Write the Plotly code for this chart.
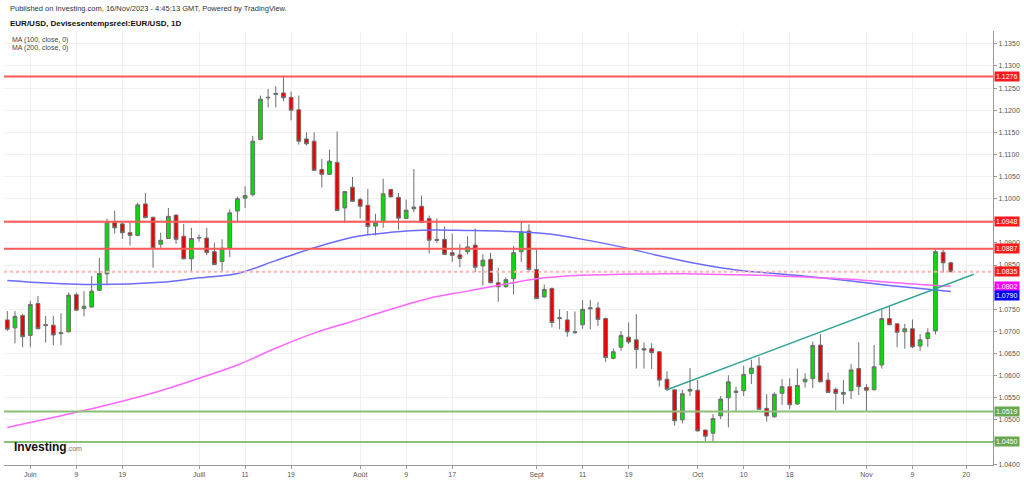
"""
EUR/USD daily candles (Jun-Nov 2023) with MA100 / MA200,
support/resistance levels and a rising trendline, TradingView style.
"""

import pandas as pd
import plotly.graph_objects as go

# --- data -------------------------------------------------------------------
dates = pd.bdate_range("2023-05-29", "2023-11-16")

opens = [
    1.0726, 1.0708, 1.0736, 1.0691, 1.0763, 1.0713, 1.0714, 1.0695, 1.0699, 1.0783,
    1.0752, 1.0755, 1.0793, 1.0830, 1.0946, 1.0943, 1.0923, 1.0917, 1.0988, 1.0958,
    1.0897, 1.0910, 1.0963, 1.0915, 1.0864, 1.0911, 1.0911, 1.0880, 1.0858, 1.0888,
    1.0972, 1.1001, 1.1009, 1.1134, 1.1228, 1.1238, 1.1239, 1.1229, 1.1201, 1.1135,
    1.1130, 1.1066, 1.1055, 1.1082, 1.0979, 1.1026, 1.0998, 1.0985, 1.0938, 1.0947,
    1.1021, 1.1003, 1.0955, 1.0977, 1.0983, 1.0955, 1.0908, 1.0908, 1.0878, 1.0873,
    1.0880, 1.0895, 1.0848, 1.0863, 1.0810, 1.0801, 1.0819, 1.0880, 1.0927, 1.0840,
    1.0778, 1.0797, 1.0731, 1.0726, 1.0697, 1.0715, 1.0751, 1.0753, 1.0729, 1.0639,
    1.0664, 1.0687, 1.0681, 1.0661, 1.0661, 1.0654, 1.0592, 1.0568, 1.0500, 1.0565,
    1.0567, 1.0477, 1.0470, 1.0509, 1.0550, 1.0562, 1.0566, 1.0605, 1.0622, 1.0526,
    1.0507, 1.0560, 1.0575, 1.0536, 1.0586, 1.0593, 1.0669, 1.0590, 1.0569, 1.0558,
    1.0566, 1.0616, 1.0573, 1.0568, 1.0624, 1.0729, 1.0717, 1.0699, 1.0706, 1.0667,
    1.0684, 1.0701, 1.0879, 1.0855,
]
highs = [
    1.0746, 1.0746, 1.0739, 1.0769, 1.0780, 1.0735, 1.0735, 1.0741, 1.0788, 1.0788,
    1.0791, 1.0825, 1.0866, 1.0955, 1.0973, 1.0947, 1.0946, 1.0991, 1.1013, 1.0959,
    1.0923, 1.0979, 1.0964, 1.0943, 1.0934, 1.0919, 1.0934, 1.0900, 1.0908, 1.0976,
    1.1005, 1.1028, 1.1142, 1.1233, 1.1248, 1.1254, 1.1278, 1.1242, 1.1233, 1.1150,
    1.1150, 1.1090, 1.1111, 1.1152, 1.1017, 1.1049, 1.1002, 1.1022, 1.0966, 1.1045,
    1.1022, 1.1013, 1.0998, 1.1067, 1.1007, 1.0962, 1.0955, 1.0937, 1.0921, 1.0897,
    1.0915, 1.0932, 1.0874, 1.0878, 1.0844, 1.0822, 1.0893, 1.0948, 1.0942, 1.0884,
    1.0806, 1.0799, 1.0750, 1.0746, 1.0745, 1.0771, 1.0771, 1.0766, 1.0731, 1.0661,
    1.0701, 1.0720, 1.0739, 1.0675, 1.0673, 1.0655, 1.0610, 1.0569, 1.0568, 1.0617,
    1.0590, 1.0478, 1.0513, 1.0554, 1.0601, 1.0575, 1.0622, 1.0636, 1.0642, 1.0558,
    1.0562, 1.0592, 1.0594, 1.0616, 1.0605, 1.0677, 1.0694, 1.0607, 1.0573, 1.0590,
    1.0626, 1.0675, 1.0581, 1.0669, 1.0750, 1.0756, 1.0718, 1.0717, 1.0727, 1.0694,
    1.0707, 1.0885, 1.0885, 1.0857,
]
lows = [
    1.0701, 1.0673, 1.0664, 1.0664, 1.0705, 1.0675, 1.0669, 1.0669, 1.0698, 1.0746,
    1.0734, 1.0754, 1.0791, 1.0804, 1.0921, 1.0909, 1.0894, 1.0915, 1.0956, 1.0844,
    1.0889, 1.0909, 1.0898, 1.0863, 1.0836, 1.0903, 1.0872, 1.0850, 1.0836, 1.0868,
    1.0945, 1.0979, 1.1005, 1.1132, 1.1206, 1.1206, 1.1220, 1.1177, 1.1122, 1.1120,
    1.1063, 1.1025, 1.1054, 1.0972, 1.0945, 1.0993, 1.0955, 1.0919, 1.0917, 1.0934,
    1.1003, 1.0930, 1.0954, 1.0969, 1.0945, 1.0876, 1.0900, 1.0873, 1.0857, 1.0845,
    1.0874, 1.0834, 1.0804, 1.0809, 1.0767, 1.0799, 1.0784, 1.0857, 1.0834, 1.0773,
    1.0776, 1.0709, 1.0705, 1.0688, 1.0695, 1.0706, 1.0705, 1.0712, 1.0631, 1.0637,
    1.0656, 1.0671, 1.0616, 1.0616, 1.0615, 1.0575, 1.0565, 1.0487, 1.0492, 1.0554,
    1.0474, 1.0449, 1.0449, 1.0502, 1.0483, 1.0518, 1.0554, 1.0581, 1.0523, 1.0496,
    1.0505, 1.0534, 1.0524, 1.0534, 1.0573, 1.0572, 1.0585, 1.0561, 1.0522, 1.0536,
    1.0547, 1.0556, 1.0518, 1.0567, 1.0616, 1.0714, 1.0664, 1.0661, 1.0662, 1.0656,
    1.0665, 1.0693, 1.0833, 1.0833,
]
closes = [
    1.0705, 1.0734, 1.0688, 1.0761, 1.0706, 1.0715, 1.0692, 1.0697, 1.0782, 1.0748,
    1.0757, 1.0791, 1.0831, 1.0948, 1.0934, 1.0923, 1.0917, 1.0986, 1.0957, 1.0888,
    1.0906, 1.0960, 1.0908, 1.0864, 1.0910, 1.0912, 1.0878, 1.0851, 1.0888, 1.0968,
    1.1000, 1.1007, 1.1130, 1.1225, 1.1229, 1.1236, 1.1228, 1.1200, 1.1130, 1.1124,
    1.1064, 1.1055, 1.1085, 1.0973, 1.1016, 1.0994, 1.0983, 1.0937, 1.0946, 1.1011,
    1.1004, 1.0956, 1.0974, 1.0981, 1.0946, 1.0906, 1.0906, 1.0874, 1.0872, 1.0865,
    1.0891, 1.0845, 1.0861, 1.0810, 1.0801, 1.0817, 1.0878, 1.0925, 1.0840, 1.0774,
    1.0795, 1.0720, 1.0729, 1.0699, 1.0699, 1.0750, 1.0753, 1.0727, 1.0641, 1.0654,
    1.0691, 1.0676, 1.0659, 1.0658, 1.0652, 1.0590, 1.0569, 1.0498, 1.0559, 1.0569,
    1.0475, 1.0463, 1.0503, 1.0547, 1.0586, 1.0565, 1.0603, 1.0617, 1.0524, 1.0509,
    1.0558, 1.0575, 1.0534, 1.0578, 1.0592, 1.0668, 1.0586, 1.0562, 1.0560, 1.0562,
    1.0613, 1.0575, 1.0567, 1.0620, 1.0729, 1.0715, 1.0698, 1.0706, 1.0665, 1.0681,
    1.0697, 1.0880, 1.0855, 1.0835,
]

# moving averages at regular points
ma_dates = [
    "2023-05-29", "2023-06-12", "2023-06-26", "2023-07-03", "2023-07-10",
    "2023-07-17", "2023-07-24", "2023-07-31", "2023-08-07", "2023-08-14",
    "2023-08-21", "2023-08-28", "2023-09-04", "2023-09-11", "2023-09-18",
    "2023-09-25", "2023-10-02", "2023-10-09", "2023-10-16", "2023-10-23",
    "2023-10-30", "2023-11-06", "2023-11-13", "2023-11-16",
]
ma100 = [
    1.0815, 1.0806, 1.0811, 1.0821, 1.0831, 1.0860, 1.0889, 1.0913, 1.0924, 1.0929,
    1.0928, 1.0926, 1.0921, 1.0908, 1.0891, 1.0871, 1.0853, 1.0839, 1.0831, 1.0823,
    1.0814, 1.0804, 1.0795, 1.0790,
]
ma200 = [
    1.0483, 1.0521, 1.0566, 1.0594, 1.0624, 1.0662, 1.0696, 1.0723, 1.0750, 1.0775,
    1.0791, 1.0807, 1.0821, 1.0827, 1.0829, 1.0830, 1.0830, 1.0828, 1.0826, 1.0822,
    1.0818, 1.0811, 1.0805, 1.0802,
]

trend_dates = ["2023-09-26", "2023-11-21"]
trend_prices = [1.0568, 1.0829]

level_prices = [1.1276, 1.0948, 1.0887, 1.0835, 1.0519, 1.0450]
level_kinds = ["res", "res", "res", "dot", "sup", "sup"]

tick_dates = [
    "2023-06-01", "2023-06-09", "2023-06-19", "2023-07-03", "2023-07-11",
    "2023-07-19", "2023-08-01", "2023-08-09", "2023-08-17", "2023-09-01",
    "2023-09-11", "2023-09-19", "2023-10-02", "2023-10-10", "2023-10-18",
    "2023-11-01", "2023-11-09", "2023-11-20",
]
tick_text = [
    "Juin", "9", "19", "Juill", "11", "19", "Août", "9", "17",
    "Sept", "11", "19", "Oct", "10", "18", "Nov", "9", "20",
]
y_ticks = [
    1.040, 1.045, 1.050, 1.055, 1.060, 1.065, 1.070, 1.075, 1.080, 1.085,
    1.090, 1.095, 1.100, 1.105, 1.110, 1.115, 1.120, 1.125, 1.130, 1.135,
]
# labels hidden behind the price boxes on the axis
y_hidden = [1.045, 1.080, 1.095]

# --- styles -----------------------------------------------------------------
FONT = "Arial, Liberation Sans, sans-serif"
LEVEL_STYLE = {
    "res": dict(color="#ff5a5a", width=2, dash="solid"),
    "dot": dict(color="#ffb3b3", width=2, dash="dot"),
    "sup": dict(color="#8cbf78", width=2, dash="solid"),
}
LABEL_BG = {"res": "#ff1a1a", "dot": "#ff1a1a", "sup": "#6aa84f"}

y_text = ["" if t in y_hidden else f"{t:.4f}" for t in y_ticks]

fig = go.Figure()

fig.add_trace(go.Candlestick(
    x=dates, open=opens, high=highs, low=lows, close=closes,
    increasing=dict(fillcolor="#00e000", line=dict(color="#6e6e6e", width=1)),
    decreasing=dict(fillcolor="#ee0000", line=dict(color="#6e6e6e", width=1)),
    whiskerwidth=0, hoverinfo="skip",
))

fig.add_trace(go.Scatter(
    x=ma_dates, y=ma100, mode="lines",
    line=dict(color="#6b6bff", width=1.5, shape="spline"), hoverinfo="skip",
))
fig.add_trace(go.Scatter(
    x=ma_dates, y=ma200, mode="lines",
    line=dict(color="#ff66ff", width=1.5, shape="spline"), hoverinfo="skip",
))
fig.add_trace(go.Scatter(
    x=trend_dates, y=trend_prices, mode="lines",
    line=dict(color="#35a596", width=1.5), hoverinfo="skip",
))

for price, kind in zip(level_prices, level_kinds):
    fig.add_shape(type="line", xref="paper", x0=0, x1=1, yref="y", y0=price, y1=price,
                  line=LEVEL_STYLE[kind], layer="above")
    fig.add_annotation(x=1, xref="paper", y=price, yref="y", xanchor="left", xshift=1,
                       text=f"{price:.4f}", showarrow=False, bgcolor=LABEL_BG[kind],
                       borderpad=1, font=dict(family=FONT, size=7, color="white"))

# last values of the moving averages
fig.add_annotation(x=1, xref="paper", y=ma200[-1], yref="y", xanchor="left", xshift=1,
                   text=f"{ma200[-1]:.4f}", showarrow=False, bgcolor="#ff00ff",
                   borderpad=1, font=dict(family=FONT, size=7, color="white"))
fig.add_annotation(x=1, xref="paper", y=ma100[-1], yref="y", xanchor="left", xshift=1,
                   yshift=-4, text=f"{ma100[-1]:.4f}", showarrow=False, bgcolor="#0000ff",
                   borderpad=1, font=dict(family=FONT, size=7, color="white"))

# header texts
fig.add_annotation(x=0.004, xref="paper", y=1.051, yref="paper", xanchor="left",
                   yanchor="middle",
                   text="Published on Investing.com, 16/Nov/2023 - 4:45:13 GMT, Powered by TradingView.",
                   showarrow=False, font=dict(family=FONT, size=7.5, color="#333"))
fig.add_annotation(x=0.004, xref="paper", y=1.018, yref="paper", xanchor="left",
                   yanchor="middle",
                   text="<b>EUR/USD, Devisesentempsréel:EUR/USD, 1D</b>",
                   showarrow=False, font=dict(family=FONT, size=8, color="#111"))
fig.add_annotation(x=0.006, xref="paper", y=0.979, yref="paper", xanchor="left",
                   yanchor="middle", text="MA (100, close, 0)", showarrow=False,
                   font=dict(family=FONT, size=7, color="#444"))
fig.add_annotation(x=0.006, xref="paper", y=0.96, yref="paper", xanchor="left",
                   yanchor="middle", text="MA (200, close, 0)", showarrow=False,
                   font=dict(family=FONT, size=7, color="#444"))
fig.add_annotation(x=0.008, xref="paper", y=0.041, yref="paper", xanchor="left",
                   yanchor="middle",
                   text="<b>Investing</b><span style='font-size:7px;color:#777'>.com</span>",
                   showarrow=False, font=dict(family=FONT, size=12, color="#111"))

fig.update_layout(
    width=1024, height=483,
    margin=dict(l=4, r=29, t=31, b=17),
    paper_bgcolor="white", plot_bgcolor="white",
    showlegend=False,
    font=dict(family=FONT, size=7, color="#555"),
    xaxis=dict(
        type="date",
        range=["2023-05-26 13:41", "2023-11-23 12:00"],
        rangebreaks=[dict(bounds=["sat", "mon"])],
        rangeslider=dict(visible=False),
        tickvals=tick_dates, ticktext=tick_text,
        tickfont=dict(size=7, color="#555"),
        showgrid=True, gridcolor="#f1f1f1", gridwidth=1,
        showline=True, linecolor="#999", linewidth=1,
        ticks="outside", ticklen=3, tickcolor="#999",
        zeroline=False,
    ),
    yaxis=dict(
        side="right",
        range=[1.0398, 1.1379],
        tickvals=y_ticks, ticktext=y_text,
        tickfont=dict(size=7, color="#555"),
        showgrid=True, gridcolor="#f1f1f1", gridwidth=1,
        showline=True, linecolor="#999", linewidth=1,
        ticks="outside", ticklen=3, tickcolor="#999",
        zeroline=False,
    ),
)

# the page's default body margin would push the 1024x483 figure off the window
fig.write_html(
    "out.html",
    config={"displayModeBar": False},
    post_script="document.body.style.margin='0px';document.body.style.overflow='hidden';",
)
